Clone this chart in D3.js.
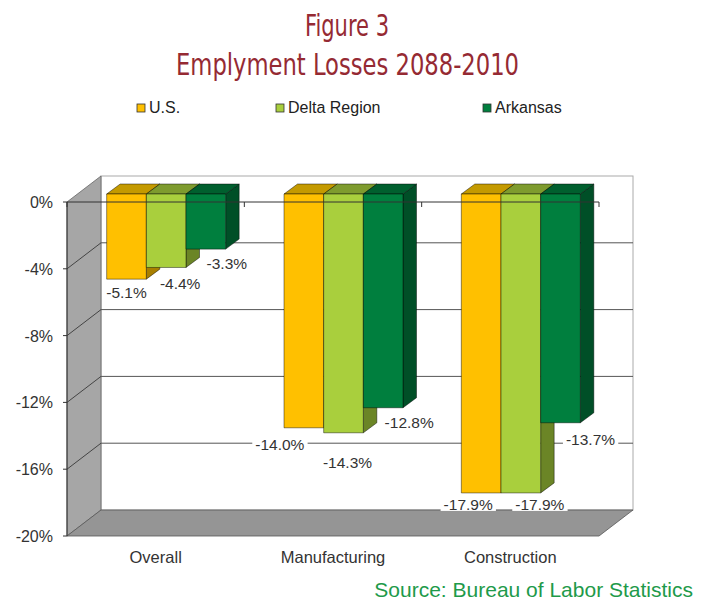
<!DOCTYPE html>
<html>
<head>
<meta charset="utf-8">
<script src="https://cdn.jsdelivr.net/npm/d3@7"></script>
<style>
  body { margin: 0; background: #fff; }
  svg { display: block; }
</style>
</head>
<body>
<div id="chart"></div>
<script>
// Data
var categories = ["Overall", "Manufacturing", "Construction"];
var seriesNames = ["U.S.", "Delta Region", "Arkansas"];
var usValues = [-5.1, -14.0, -17.9];
var deltaValues = [-4.4, -14.3, -17.9];
var arkansasValues = [-3.3, -12.8, -13.7];
var yTicks = [0, -4, -8, -12, -16, -20];

// Colours: front, top, side
var colours = [
    { front: "#FFC000", top: "#C49A00", side: "#A87F00" },
    { front: "#A9CF3D", top: "#7E9B2E", side: "#6B8526" },
    { front: "#007F3E", top: "#005F2E", side: "#004F27" }
];

// Layout
var width = 713, height = 600;
var frontLeft = 67, frontRight = 599;
var yTop = 202, yBottom = 536;
var wallDx = 34, wallDy = -26;      // depth of the chart box
var barShiftX = 10.5, barShiftY = -8; // bar front plane within the box
var barDx = 13.5, barDy = -10;       // bar depth
var groupWidth = 119;

// Label nudges (dx, dy) from bar front bottom centre
var labelNudge = [
    [[0, 13], [14, 16], [21, 14]],
    [[-24, 16], [4, 29], [26, 14]],
    [[-13, 11], [19, 11], [30, 16]]
];

var seriesValues = [usValues, deltaValues, arkansasValues];

var svg = d3.select("#chart")
    .append("svg")
    .attr("width", width)
    .attr("height", height);

var y = d3.scaleLinear().domain([-20, 0]).range([yBottom, yTop]);
var x0 = d3.scaleBand().domain(categories).range([frontLeft, frontRight]).padding(0);
var x1 = d3.scaleBand().domain(seriesNames).range([0, groupWidth]).padding(0);

// Title
var titleFont = "'DejaVu Sans Condensed', 'Liberation Sans Narrow', sans-serif";
svg.append("text")
    .attr("x", 305).attr("y", 36)
    .attr("textLength", 84)
    .attr("lengthAdjust", "spacingAndGlyphs")
    .style("font-family", titleFont)
    .style("font-size", "30px")
    .style("fill", "#952A33")
    .text("Figure 3");

svg.append("text")
    .attr("x", 176).attr("y", 75)
    .attr("textLength", 343)
    .attr("lengthAdjust", "spacingAndGlyphs")
    .style("font-family", titleFont)
    .style("font-size", "30px")
    .style("fill", "#952A33")
    .text("Emplyment Losses 2088-2010");

// Legend
var legendX = [137, 276, 483];
var legend = svg.append("g");
seriesNames.forEach(function(name, i) {
    legend.append("rect")
        .attr("x", legendX[i]).attr("y", 104)
        .attr("width", 8).attr("height", 8)
        .attr("fill", colours[i].front)
        .attr("stroke", "#333")
        .attr("stroke-width", 0.8);
    legend.append("text")
        .attr("x", legendX[i] + 12).attr("y", 113)
        .style("font-family", "'Liberation Sans', Arial, sans-serif")
        .style("font-size", "16px")
        .style("fill", "#222")
        .text(name);
});

// Back wall
svg.append("rect")
    .attr("x", frontLeft + wallDx).attr("y", yTop + wallDy)
    .attr("width", frontRight - frontLeft).attr("height", yBottom - yTop)
    .attr("fill", "#fff")
    .attr("stroke", "#aaa")
    .attr("stroke-width", 1);

// Left wall
svg.append("polygon")
    .attr("points", [
        [frontLeft, yTop], [frontLeft + wallDx, yTop + wallDy],
        [frontLeft + wallDx, yBottom + wallDy], [frontLeft, yBottom]
    ].join(" "))
    .attr("fill", "#A6A6A6")
    .attr("stroke", "#666")
    .attr("stroke-width", 0.8);

// Floor
svg.append("polygon")
    .attr("points", [
        [frontLeft, yBottom], [frontRight, yBottom],
        [frontRight + wallDx, yBottom + wallDy], [frontLeft + wallDx, yBottom + wallDy]
    ].join(" "))
    .attr("fill", "#959595")
    .attr("stroke", "#555")
    .attr("stroke-width", 0.8);

// Gridlines (back wall + slant on the left wall)
var grid = svg.append("g");
yTicks.filter(function(t) { return t > -20 && t < 0; }).forEach(function(t) {
    grid.append("line")
        .attr("x1", frontLeft + wallDx).attr("x2", frontRight + wallDx)
        .attr("y1", y(t) + wallDy).attr("y2", y(t) + wallDy)
        .attr("stroke", "#555").attr("stroke-width", 1);
    grid.append("line")
        .attr("x1", frontLeft).attr("x2", frontLeft + wallDx)
        .attr("y1", y(t)).attr("y2", y(t) + wallDy)
        .attr("stroke", "#444").attr("stroke-width", 1);
});

// Bars
var bars = svg.append("g");
var labelData = [];
categories.forEach(function(cat, ci) {
    seriesNames.forEach(function(name, si) {
        var v = seriesValues[si][ci];
        var bx = x0(cat) + (x0.bandwidth() - groupWidth) / 2 + x1(name) + barShiftX;
        var bw = x1.bandwidth();
        var yt = y(0) + barShiftY;
        var yb = y(v) + barShiftY;
        var c = colours[si];
        var g = bars.append("g")
            .attr("stroke", "rgba(0,0,0,0.55)")
            .attr("stroke-width", 0.8)
            .attr("stroke-linejoin", "round");
        g.append("polygon")
            .attr("points", [[bx + bw, yt], [bx + bw + barDx, yt + barDy],
                [bx + bw + barDx, yb + barDy], [bx + bw, yb]].join(" "))
            .attr("fill", c.side);
        g.append("polygon")
            .attr("points", [[bx, yt], [bx + bw, yt],
                [bx + bw + barDx, yt + barDy], [bx + barDx, yt + barDy]].join(" "))
            .attr("fill", c.top);
        g.append("rect")
            .attr("x", bx).attr("y", yt)
            .attr("width", bw).attr("height", yb - yt)
            .attr("fill", c.front);
        labelData.push({
            x: bx + bw / 2 + labelNudge[ci][si][0],
            y: yb + labelNudge[ci][si][1],
            text: v.toFixed(1) + "%"
        });
    });
});

// Category axis at 0% (front plane)
svg.append("line")
    .attr("x1", frontLeft).attr("x2", frontRight)
    .attr("y1", y(0)).attr("y2", y(0))
    .attr("stroke", "#333").attr("stroke-width", 1);
d3.range(categories.length + 1).forEach(function(i) {
    var tx = frontLeft + i * x0.bandwidth();
    svg.append("line")
        .attr("x1", tx).attr("x2", tx)
        .attr("y1", y(0)).attr("y2", y(0) + 5)
        .attr("stroke", "#333").attr("stroke-width", 1);
});

// Value axis
svg.append("line")
    .attr("x1", frontLeft).attr("x2", frontLeft)
    .attr("y1", y(0)).attr("y2", y(-20))
    .attr("stroke", "#333").attr("stroke-width", 1);
yTicks.forEach(function(t) {
    svg.append("line")
        .attr("x1", frontLeft - 4).attr("x2", frontLeft)
        .attr("y1", y(t)).attr("y2", y(t))
        .attr("stroke", "#333").attr("stroke-width", 1);
    svg.append("text")
        .attr("x", 53).attr("y", y(t) + 6)
        .attr("text-anchor", "end")
        .style("font-family", "'Liberation Sans', Arial, sans-serif")
        .style("font-size", "16px")
        .style("fill", "#333")
        .text(t + "%");
});

// Category labels
categories.forEach(function(cat) {
    svg.append("text")
        .attr("x", x0(cat) + x0.bandwidth() / 2).attr("y", 563)
        .attr("text-anchor", "middle")
        .style("font-family", "'Liberation Sans', Arial, sans-serif")
        .style("font-size", "16.5px")
        .style("fill", "#333")
        .text(cat);
});

// Data labels with white backgrounds
var labels = svg.append("g");
labelData.forEach(function(d) {
    var g = labels.append("g");
    var t = g.append("text")
        .attr("x", d.x).attr("y", d.y + 6)
        .attr("text-anchor", "middle")
        .style("font-family", "'Liberation Sans', Arial, sans-serif")
        .style("font-size", "15.5px")
        .style("fill", "#333")
        .text(d.text);
    var b = t.node().getBBox();
    g.insert("rect", "text")
        .attr("x", b.x - 3).attr("y", d.y - 6)
        .attr("width", b.width + 6).attr("height", 13)
        .attr("fill", "#fff");
});

// Source
svg.append("text")
    .attr("x", 693).attr("y", 597)
    .attr("text-anchor", "end")
    .style("font-family", "'Liberation Sans', Arial, sans-serif")
    .style("font-size", "21px")
    .style("fill", "#1E9A4A")
    .text("Source: Bureau of Labor Statistics");
</script>
</body>
</html>
